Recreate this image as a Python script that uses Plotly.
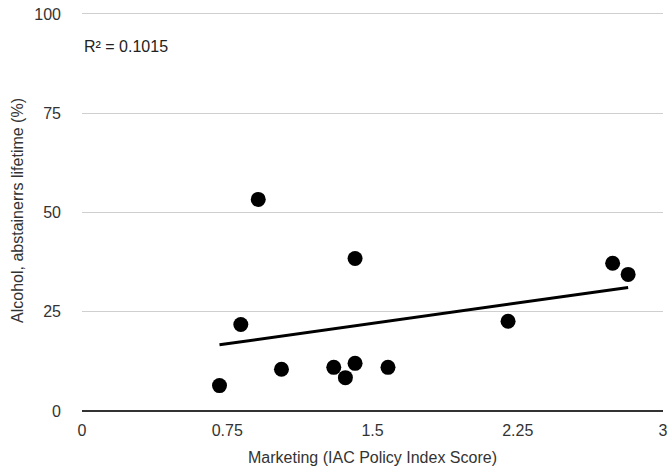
import numpy as np
import plotly.graph_objects as go

# Data
marketing = [0.71, 0.82, 0.91, 1.03, 1.30, 1.36, 1.41, 1.41, 1.58, 2.20, 2.74, 2.82]
abstainers = [6.4, 21.8, 53.3, 10.5, 11.0, 8.4, 12.0, 38.4, 11.0, 22.6, 37.2, 34.4]
x_ticks = [0, 0.75, 1.5, 2.25, 3]
x_tick_labels = ["0", "0.75", "1.5", "2.25", "3"]
y_ticks = [0, 25, 50, 75, 100]
r2_label = "R² = 0.1015"

x = np.array(marketing)
y = np.array(abstainers)
slope, intercept = np.polyfit(x, y, 1)
trend_x = [x.min(), x.max()]
trend_y = [slope * v + intercept for v in trend_x]

font_family = "Liberation Sans, Arial, Helvetica, sans-serif"
fs = 16

fig = go.Figure()
fig.add_trace(go.Scatter(
    x=trend_x, y=trend_y, mode="lines",
    line=dict(color="black", width=3), hoverinfo="skip", showlegend=False,
))
fig.add_trace(go.Scatter(
    x=marketing, y=abstainers, mode="markers",
    marker=dict(color="black", size=15), showlegend=False,
))

fig.add_annotation(
    xref="paper", yref="paper", x=0, y=0.91, xanchor="left", yanchor="middle",
    text=r2_label, showarrow=False, font=dict(size=fs, color="#222", family=font_family),
)

fig.update_layout(
    width=672, height=469,
    margin=dict(l=82, r=9, t=10, b=58),
    paper_bgcolor="white", plot_bgcolor="white",
    font=dict(family=font_family, size=fs, color="#333"),
    xaxis=dict(
        range=[0, 3], tickvals=x_ticks, ticktext=x_tick_labels,
        showgrid=False, zeroline=False, showline=False, automargin=False,
        ticks="", tickfont=dict(size=fs, color="#333"), ticklabeloverflow="allow",
        ticklabelstandoff=8,
        title=dict(text="Marketing (IAC Policy Index Score)", font=dict(size=fs, color="#333"), standoff=13),
    ),
    yaxis=dict(
        range=[0, 101], tickvals=y_ticks, automargin=False,
        showgrid=True, gridcolor="#cfcfcf", gridwidth=1,
        zeroline=True, zerolinecolor="#333", zerolinewidth=2,
        showline=False, ticks="", ticklabelstandoff=20, ticklabeloverflow="allow",
        tickfont=dict(size=fs, color="#333"),
        title=dict(text="Alcohol, abstainerrs lifetime (%)", font=dict(size=fs, color="#333"), standoff=6),
    ),
)

fig.write_html(
    "out.html",
    config={"displayModeBar": False},
    post_script="document.body.style.margin='0px';",
)
